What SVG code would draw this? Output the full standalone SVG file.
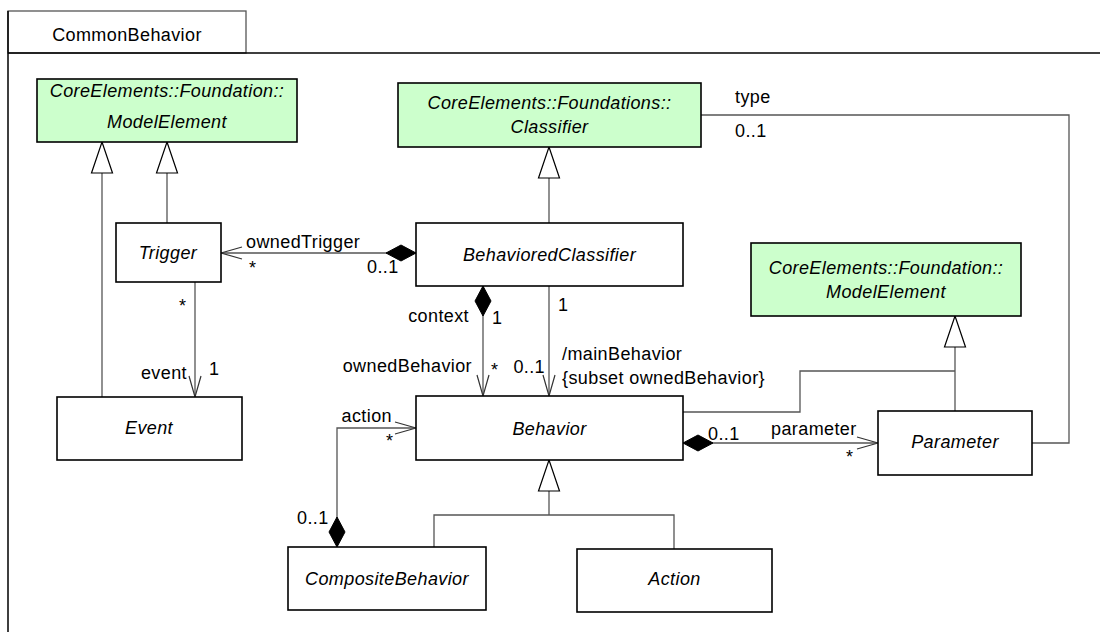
<svg xmlns="http://www.w3.org/2000/svg" width="1100" height="632" viewBox="0 0 1100 632">
<style>
text{font-family:"Liberation Sans",Arial,sans-serif;font-size:18px;fill:#000;letter-spacing:0.4px}
.n{font-style:italic;text-anchor:middle}
.box{fill:#fff;stroke:#000;stroke-width:1.6}
.ext{fill:#ccffcc;stroke:#000;stroke-width:1.6}
.c{fill:none;stroke:#555;stroke-width:1.3}
.frame{fill:none;stroke:#000;stroke-width:1.5}
</style>
<defs>
<marker id="arrow" markerUnits="userSpaceOnUse" markerWidth="24" markerHeight="16" viewBox="-22 -8 24 16" refX="0" refY="0" orient="auto">
<path d="M-21,-6 L0,0 L-21,6" fill="none" stroke="#333" stroke-width="1.2"/>
</marker>
<marker id="diamond" markerUnits="userSpaceOnUse" markerWidth="32" markerHeight="20" viewBox="-1 -10 32 20" refX="0" refY="0" orient="auto">
<path d="M0,0 L15,-8 L30,0 L15,8 Z" fill="#000" stroke="#000" stroke-width="1"/>
</marker>
<marker id="tri" markerUnits="userSpaceOnUse" markerWidth="34" markerHeight="26" viewBox="-1 -13 34 26" refX="0" refY="0" orient="auto">
<path d="M0,0 L31,-10.5 L31,10.5 Z" fill="#fff" stroke="#000" stroke-width="1.2"/>
</marker>
</defs>

<g id="frame">
<rect x="8" y="11" width="238" height="42" fill="#fff" stroke="#555" stroke-width="1.3"/>
<path class="frame" d="M8,11 L8,632 M8,53 L1100,53"/>
<text x="127" y="41" text-anchor="middle">CommonBehavior</text>
</g>

<g id="connectors">
<path class="c" d="M102,142 L102,397" marker-start="url(#tri)"/>
<path class="c" d="M167,142 L167,223" marker-start="url(#tri)"/>
<path class="c" d="M549,147 L549,223" marker-start="url(#tri)"/>
<path class="c" d="M955,316 L955,411" marker-start="url(#tri)"/>
<path class="c" d="M683,412 L800,412 L800,371 L955,371"/>
<path class="c" d="M549,460 L549,515" marker-start="url(#tri)"/>
<path class="c" d="M434,547 L434,515 L674,515 L674,549"/>
<path class="c" d="M416,253 L221,253" marker-start="url(#diamond)" marker-end="url(#arrow)"/>
<path class="c" d="M195,282 L195,397" marker-end="url(#arrow)"/>
<path class="c" d="M483,286 L483,396" marker-start="url(#diamond)" marker-end="url(#arrow)"/>
<path class="c" d="M549,286 L549,396" marker-end="url(#arrow)"/>
<path class="c" d="M683,443 L878,443" marker-start="url(#diamond)" marker-end="url(#arrow)"/>
<path class="c" d="M337,547 L337,428 L416,428" marker-start="url(#diamond)" marker-end="url(#arrow)"/>
<path class="c" d="M701,115 L1069,115 L1069,443 L1032,443"/>
<text x="246" y="248">ownedTrigger</text>
<text x="249" y="274">*</text>
<text x="367" y="273">0..1</text>
<text x="179" y="312">*</text>
<text x="187" y="379" text-anchor="end">event</text>
<text x="209" y="375">1</text>
<text x="469" y="322" text-anchor="end">context</text>
<text x="492" y="324">1</text>
<text x="472" y="372" text-anchor="end">ownedBehavior</text>
<text x="491" y="376">*</text>
<text x="545" y="373" text-anchor="end">0..1</text>
<text x="558" y="311">1</text>
<text x="562" y="360">/mainBehavior</text>
<text x="562" y="384">{subset ownedBehavior}</text>
<text x="392" y="422" text-anchor="end">action</text>
<text x="386" y="447">*</text>
<text x="297" y="524">0..1</text>
<text x="708" y="440">0..1</text>
<text x="771" y="435">parameter</text>
<text x="846" y="463">*</text>
<text x="735" y="103">type</text>
<text x="735" y="137">0..1</text>
</g>

<g id="ModelElement1">
<rect class="ext" x="37" y="79" width="260" height="63"/>
<text class="n" x="167" y="97">CoreElements::Foundation::</text>
<text class="n" x="167" y="128">ModelElement</text>
</g>
<g id="Classifier">
<rect class="ext" x="398" y="83" width="303" height="64"/>
<text class="n" x="549.5" y="109">CoreElements::Foundations::</text>
<text class="n" x="549.5" y="133">Classifier</text>
</g>
<g id="ModelElement2">
<rect class="ext" x="751" y="243" width="270" height="73"/>
<text class="n" x="886" y="274">CoreElements::Foundation::</text>
<text class="n" x="886" y="298">ModelElement</text>
</g>
<g id="Trigger">
<rect class="box" x="116" y="223" width="105" height="59"/>
<text class="n" x="168" y="259">Trigger</text>
</g>
<g id="Event">
<rect class="box" x="57" y="397" width="185" height="63"/>
<text class="n" x="149" y="434">Event</text>
</g>
<g id="BehavioredClassifier">
<rect class="box" x="416" y="223" width="267" height="63"/>
<text class="n" x="549.5" y="261">BehavioredClassifier</text>
</g>
<g id="Behavior">
<rect class="box" x="416" y="396" width="267" height="64"/>
<text class="n" x="549.5" y="435">Behavior</text>
</g>
<g id="Parameter">
<rect class="box" x="878" y="411" width="154" height="64"/>
<text class="n" x="955" y="448">Parameter</text>
</g>
<g id="CompositeBehavior">
<rect class="box" x="288" y="547" width="198" height="63"/>
<text class="n" x="387" y="585">CompositeBehavior</text>
</g>
<g id="Action">
<rect class="box" x="577" y="549" width="195" height="63"/>
<text class="n" x="674.5" y="585">Action</text>
</g>
</svg>
